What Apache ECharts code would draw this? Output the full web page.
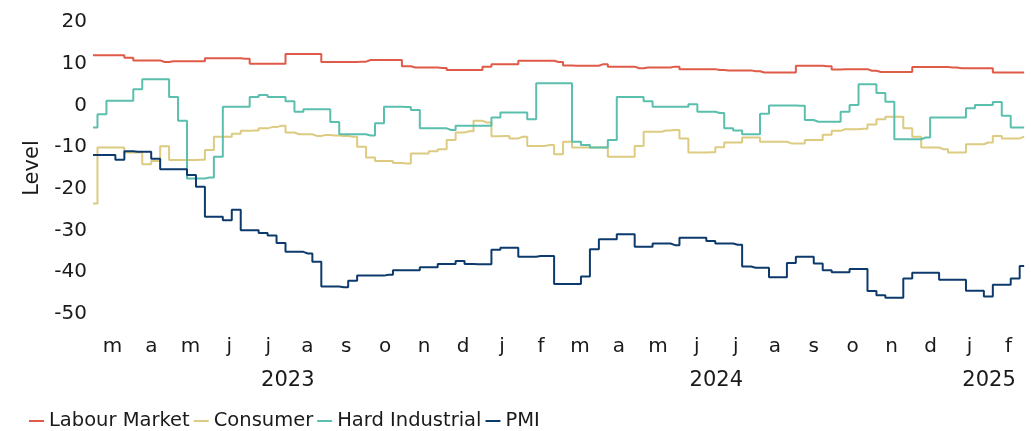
<!DOCTYPE html>
<html>
<head>
<meta charset="utf-8">
<script src="https://cdn.jsdelivr.net/npm/echarts@6/dist/echarts.min.js"></script>
<style>
  html, body { margin: 0; padding: 0; background: #fff; }
  #chart { width: 1031px; height: 431px; }
</style>
</head>
<body>
<div id="chart"></div>
<script>
// weekly readings, first week starts 1 March 2023
const startDate = '2023-03-01'
const endDate = '2025-03-01'

const monthLabels = ['m', 'a', 'm', 'j', 'j', 'a', 's', 'o', 'n', 'd', 'j', 'f',
  'm', 'a', 'm', 'j', 'j', 'a', 's', 'o', 'n', 'd', 'j', 'f']
// month boundaries, year label sits in the middle of its months
const yearLabels = ['', '', '', '', '', '2023', '', '', '', '', '', '', '', '', '', '', '2024',
  '', '', '', '', '', '', '2025', '']

const yTicks = [-50, -40, -30, -20, -10, 0, 10, 20]

const labourMarket = [
  12.0, 12.0, 12.0, 12.0, 11.4, 10.8, 10.8, 10.8, 10.4, 10.6,
  10.6, 10.6, 10.6, 11.3, 11.3, 11.3, 11.3, 11.2, 10.0, 10.0,
  10.0, 10.0, 12.3, 12.3, 12.3, 12.3, 10.4, 10.4, 10.4, 10.4,
  10.5, 10.9, 10.9, 10.9, 10.9, 9.4, 9.1, 9.1, 9.1, 9.0,
  8.5, 8.5, 8.5, 8.5, 9.3, 9.9, 9.9, 9.9, 10.7, 10.7,
  10.7, 10.7, 10.4, 9.6, 9.5, 9.5, 9.5, 9.9, 9.3, 9.3,
  9.3, 8.9, 9.1, 9.1, 9.1, 9.3, 8.7, 8.7, 8.7, 8.7,
  8.5, 8.4, 8.4, 8.4, 8.2, 7.9, 7.9, 7.9, 7.9, 9.5,
  9.5, 9.5, 9.4, 8.6, 8.7, 8.7, 8.7, 8.3, 8.0, 8.0,
  8.0, 8.0, 9.2, 9.2, 9.2, 9.2, 9.1, 8.9, 8.9, 8.9,
  8.9, 7.9, 7.9, 7.9, 7.9
]

const consumer = [
  -23.5, -10.1, -10.1, -10.1, -11.3, -11.3, -14.1, -13.3, -9.8, -13.1,
  -13.1, -13.1, -13.0, -10.7, -7.5, -7.5, -6.8, -6.1, -6.0, -5.5,
  -5.2, -4.9, -6.5, -6.9, -6.9, -7.3, -7.1, -7.2, -7.3, -7.5,
  -9.9, -12.5, -13.3, -13.3, -13.8, -13.9, -11.5, -11.5, -11.0, -10.5,
  -8.3, -6.5, -6.2, -3.7, -4.1, -7.4, -7.3, -7.9, -7.5, -9.7,
  -9.7, -9.5, -11.7, -8.7, -10.1, -10.1, -10.1, -10.1, -12.3, -12.3,
  -12.3, -9.7, -6.3, -6.3, -6.0, -5.9, -7.9, -11.3, -11.3, -11.2,
  -10.0, -8.9, -8.9, -7.7, -7.7, -8.7, -8.7, -8.7, -9.1, -9.1,
  -8.3, -8.3, -7.0, -6.1, -5.7, -5.7, -5.6, -4.6, -3.3, -2.7,
  -2.7, -5.5, -7.5, -10.1, -10.1, -10.5, -11.3, -11.3, -9.3, -9.3,
  -8.9, -7.3, -7.9, -7.9, -7.5
]

const hardIndustrial = [
  -5.3, -2.1, 1.1, 1.1, 1.1, 3.9, 6.3, 6.3, 6.3, 2.0,
  -3.7, -17.5, -17.5, -17.3, -12.3, -0.3, -0.3, -0.3, 2.0, 2.5,
  2.0, 2.0, 1.0, -1.5, -0.9, -0.9, -0.9, -4.0, -6.9, -6.9,
  -6.9, -7.2, -4.3, -0.3, -0.3, -0.4, -1.1, -5.5, -5.5, -5.5,
  -5.9, -4.9, -4.9, -4.9, -4.9, -2.9, -1.7, -1.7, -1.7, -3.3,
  5.3, 5.3, 5.3, 5.3, -8.7, -9.5, -10.1, -10.1, -8.3, 2.0,
  2.0, 2.0, 1.0, -0.3, -0.3, -0.3, -0.3, 0.3, -1.5, -1.5,
  -1.8, -5.5, -6.0, -6.9, -6.9, -2.0, 0.0, 0.0, 0.0, -0.1,
  -3.5, -3.9, -3.9, -3.9, -1.5, 0.1, 5.1, 5.1, 3.0, 0.9,
  -8.1, -8.1, -8.1, -7.7, -2.9, -2.9, -2.9, -2.9, -0.7, 0.1,
  0.1, 0.8, -2.5, -5.3, -5.3
]

const pmi = [
  -11.9, -11.9, -11.9, -13.0, -11.0, -11.1, -11.1, -12.8, -15.3, -15.3,
  -15.3, -16.7, -19.5, -26.7, -26.7, -27.5, -25.0, -29.9, -29.9, -30.6,
  -31.2, -33.0, -35.1, -35.1, -35.5, -37.5, -43.4, -43.4, -43.6, -42.0,
  -40.8, -40.8, -40.8, -40.6, -39.5, -39.5, -39.5, -38.8, -38.8, -38.0,
  -38.0, -37.3, -38.0, -38.1, -38.1, -34.6, -34.1, -34.1, -36.3, -36.3,
  -36.1, -36.1, -42.8, -42.8, -42.8, -41.0, -34.5, -32.1, -32.1, -30.9,
  -30.9, -33.9, -33.9, -33.1, -33.1, -33.5, -31.7, -31.7, -31.7, -32.5,
  -33.1, -33.1, -33.4, -38.6, -38.9, -38.9, -41.2, -41.2, -37.8, -36.3,
  -36.3, -37.9, -39.5, -40.0, -40.0, -39.2, -39.2, -44.5, -45.5, -46.1,
  -46.1, -41.5, -40.1, -40.1, -40.1, -41.8, -41.8, -41.8, -44.4, -44.4,
  -45.8, -43.0, -43.0, -41.5, -38.5
]

const fontFamily = 'DejaVu Sans'
const textColor = '#1a1a1a'
const DAY = 24 * 3600 * 1000

// one date per weekly reading
const t0 = new Date(startDate + 'T00:00:00Z').getTime()
const weeks = labourMarket.map((v, i) => t0 + i * 7 * DAY)

function pairs(values) {
  return values.map((v, i) => [weeks[i], v])
}

function lineSeries(name, values, color) {
  return {
    name: name,
    type: 'line',
    xAxisIndex: 0,
    step: 'middle',
    showSymbol: false,
    lineStyle: { width: 2, color: color },
    itemStyle: { color: color },
    data: pairs(values)
  }
}

const chart = echarts.init(document.getElementById('chart'))

const option = {
  animation: false,
  textStyle: { fontFamily: fontFamily },
  grid: { left: 93, right: 0, top: 22, bottom: 117 },
  legend: {
    left: 24,
    top: 406,
    itemWidth: 15,
    itemHeight: 2,
    itemGap: 4,
    icon: 'rect',
    textStyle: { fontFamily: fontFamily, fontSize: 19.5, color: textColor },
    data: ['Labour Market', 'Consumer', 'Hard Industrial', 'PMI']
  },
  xAxis: [
    {
      type: 'time',
      min: startDate,
      max: endDate,
      show: false
    },
    {
      type: 'category',
      data: monthLabels,
      boundaryGap: true,
      position: 'bottom',
      axisLine: { show: false },
      axisTick: { show: false },
      splitLine: { show: false },
      axisLabel: { interval: 0, margin: 23, fontSize: 20, color: textColor, fontFamily: fontFamily }
    },
    {
      type: 'category',
      data: yearLabels,
      boundaryGap: false,
      position: 'bottom',
      offset: 34,
      axisLine: { show: false },
      axisTick: { show: false },
      splitLine: { show: false },
      axisLabel: { interval: 0, margin: 22, fontSize: 21, color: textColor, fontFamily: fontFamily }
    }
  ],
  yAxis: {
    type: 'value',
    min: yTicks[0],
    max: yTicks[yTicks.length - 1],
    interval: 10,
    name: 'Level',
    nameLocation: 'middle',
    nameGap: 45,
    nameTextStyle: { fontSize: 21, color: textColor, fontFamily: fontFamily },
    axisLine: { show: false },
    axisTick: { show: false },
    splitLine: { show: false },
    axisLabel: { margin: 6, fontSize: 20, color: textColor, fontFamily: fontFamily }
  },
  series: [
    lineSeries('Labour Market', labourMarket, '#e05a48'),
    lineSeries('Consumer', consumer, '#dccb80'),
    lineSeries('Hard Industrial', hardIndustrial, '#5bbfae'),
    lineSeries('PMI', pmi, '#0d3a6c')
  ]
}

chart.setOption(option)
</script>
</body>
</html>
